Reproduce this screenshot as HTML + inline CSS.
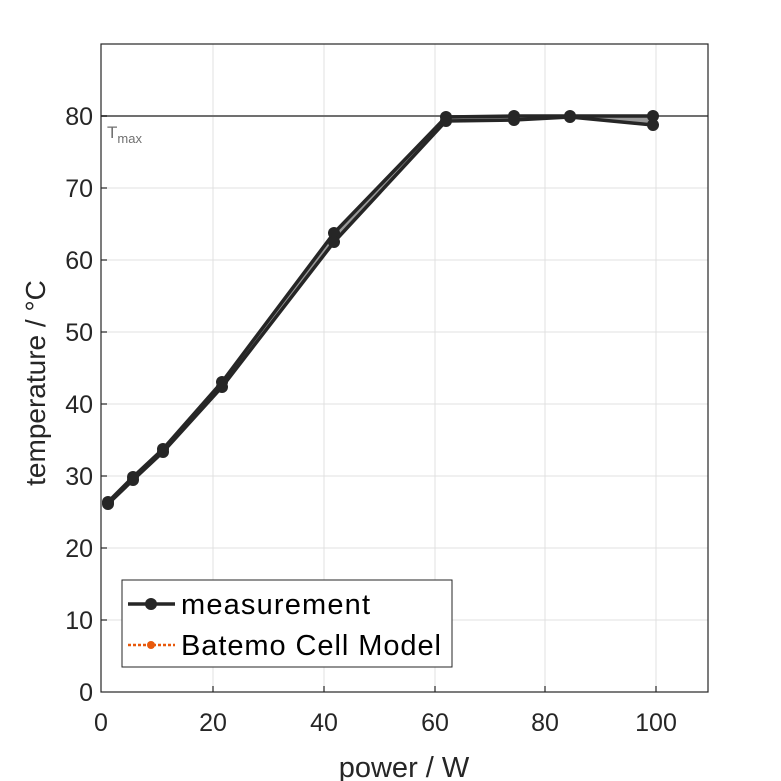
<!DOCTYPE html>
<html><head><style>body{margin:0;background:#fff}svg{display:block}</style></head><body>
<svg width="781" height="781" xmlns="http://www.w3.org/2000/svg" font-family="Liberation Sans, sans-serif">
<rect width="781" height="781" fill="#fff"/>
<g stroke="#e0e0e0" stroke-width="1">
<line x1="213" y1="44" x2="213" y2="692"/><line x1="324" y1="44" x2="324" y2="692"/><line x1="435" y1="44" x2="435" y2="692"/><line x1="545" y1="44" x2="545" y2="692"/><line x1="656" y1="44" x2="656" y2="692"/>
<line x1="101" y1="620" x2="708" y2="620"/><line x1="101" y1="548" x2="708" y2="548"/><line x1="101" y1="476" x2="708" y2="476"/><line x1="101" y1="404" x2="708" y2="404"/><line x1="101" y1="332" x2="708" y2="332"/><line x1="101" y1="260" x2="708" y2="260"/><line x1="101" y1="188" x2="708" y2="188"/>
</g>
<line x1="101" y1="116" x2="708" y2="116" stroke="#707070" stroke-width="2"/>
<text x="107" y="138" font-size="17" fill="#707070">T<tspan font-size="13" dy="5">max</tspan></text>
<polygon points="108,502 133,477 163,449 222,382 334,233 446,117 514,116 570,116 653,116 653,125 570,117 514,120 446,121 334,242 222,387 163,452 133,480 108,504" fill="#999"/>
<g fill="none" stroke="#262626" stroke-width="3.5" stroke-linejoin="round">
<polyline points="108,502 133,477 163,449 222,382 334,233 446,117 514,116 570,116 653,116"/>
<polyline points="108,504 133,480 163,452 222,387 334,242 446,121 514,120 570,117 653,125"/>
</g>
<g fill="#262626">
<circle cx="108" cy="502" r="6"/><circle cx="133" cy="477" r="6"/><circle cx="163" cy="449" r="6"/><circle cx="222" cy="382" r="6"/><circle cx="334" cy="233" r="6"/><circle cx="446" cy="117" r="6"/><circle cx="514" cy="116" r="6"/><circle cx="570" cy="116" r="6"/><circle cx="653" cy="116" r="6"/>
<circle cx="108" cy="504" r="6"/><circle cx="133" cy="480" r="6"/><circle cx="163" cy="452" r="6"/><circle cx="222" cy="387" r="6"/><circle cx="334" cy="242" r="6"/><circle cx="446" cy="121" r="6"/><circle cx="514" cy="120" r="6"/><circle cx="570" cy="117" r="6"/><circle cx="653" cy="125" r="6"/>
</g>
<rect x="101" y="44" width="607" height="648" fill="none" stroke="#262626" stroke-width="1.2"/>
<g stroke="#262626" stroke-width="1.2">
<line x1="213" y1="692" x2="213" y2="686"/><line x1="324" y1="692" x2="324" y2="686"/><line x1="435" y1="692" x2="435" y2="686"/><line x1="545" y1="692" x2="545" y2="686"/><line x1="656" y1="692" x2="656" y2="686"/>
<line x1="101" y1="620" x2="107" y2="620"/><line x1="101" y1="548" x2="107" y2="548"/><line x1="101" y1="476" x2="107" y2="476"/><line x1="101" y1="404" x2="107" y2="404"/><line x1="101" y1="332" x2="107" y2="332"/><line x1="101" y1="260" x2="107" y2="260"/><line x1="101" y1="188" x2="107" y2="188"/><line x1="101" y1="116" x2="107" y2="116"/>
</g>
<g font-size="25" fill="#262626" text-anchor="middle">
<text x="101" y="731">0</text><text x="213" y="731">20</text><text x="324" y="731">40</text><text x="435" y="731">60</text><text x="545" y="731">80</text><text x="656" y="731">100</text>
</g>
<g font-size="25" fill="#262626" text-anchor="end">
<text x="93" y="701">0</text><text x="93" y="629">10</text><text x="93" y="557">20</text><text x="93" y="485">30</text><text x="93" y="413">40</text><text x="93" y="341">50</text><text x="93" y="269">60</text><text x="93" y="197">70</text><text x="93" y="125">80</text>
</g>
<text x="404" y="777" font-size="29" fill="#262626" text-anchor="middle">power / W</text>
<text transform="translate(45,383) rotate(-90)" font-size="28" fill="#262626" text-anchor="middle">temperature / °C</text>
<rect x="122" y="580" width="330" height="87" fill="#fff" stroke="#262626" stroke-width="1"/>
<line x1="128" y1="604" x2="175" y2="604" stroke="#262626" stroke-width="3.5"/>
<circle cx="151" cy="604" r="6" fill="#262626"/>
<text x="181" y="614" font-size="29" fill="#000" textLength="189">measurement</text>
<line x1="128" y1="645" x2="175" y2="645" stroke="#e8590c" stroke-width="2.5" stroke-dasharray="3,2"/>
<circle cx="151" cy="645" r="4" fill="#e8590c"/>
<text x="181" y="655" font-size="29" fill="#000" textLength="260">Batemo Cell Model</text>
</svg>
</body></html>
